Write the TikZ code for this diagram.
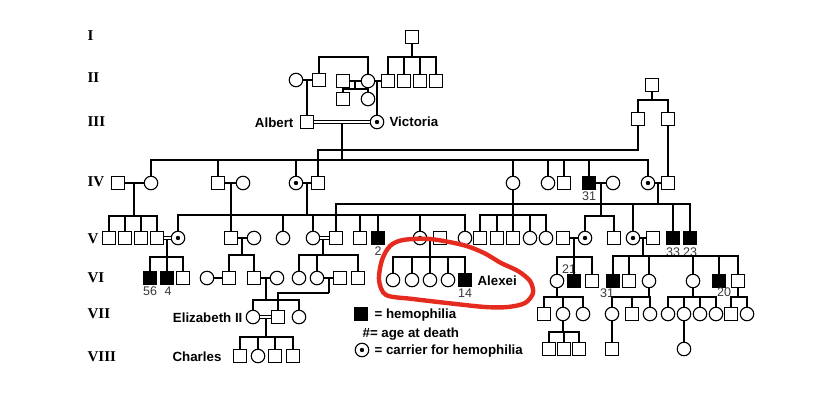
\documentclass[tikz,border=0pt]{standalone}
\usepackage{fontspec}
\setmainfont{Liberation Sans}
\newfontfamily\genfont{Liberation Serif}
\definecolor{PedRed}{HTML}{E52B1F}
\definecolor{PedGray}{HTML}{383838}

\begin{document}
\begin{tikzpicture}[x=1pt,y=-1pt,line width=1.2pt,
    person/.style={draw,fill=white,inner sep=0pt,line width=1.1pt},
    male/.style={person,rectangle,minimum size=12.5pt},
    female/.style={person,circle,minimum size=13.5pt},
    carrier/.style={female,path picture={\fill[black] (path picture bounding box.center) circle (2.2pt);}},
    sick/.style={male,fill=black},
    wed/.style={double,double distance=1.7pt,line width=1pt},
    gen/.style={anchor=base west,inner sep=0pt,font=\genfont\bfseries\fontsize{15}{15}\selectfont},
    who/.style={inner sep=0pt,font=\bfseries\fontsize{13.3}{14}\selectfont},
    age/.style={inner sep=0pt,text=PedGray,font=\fontsize{12.5}{12.5}\selectfont}]
  \useasboundingbox (0,0) rectangle (824,406);

  \node[gen] (gI) at (87,41) {I};
  \node[gen] (gII) at (87,83) {II};
  \node[gen] (gIII) at (87,127) {III};
  \node[gen] (gIV) at (87,186) {IV};
  \node[gen] (gV) at (87,243) {V};
  \node[gen] (gVI) at (87,282) {VI};
  \node[gen] (gVII) at (87,318) {VII};
  \node[gen] (gVIII) at (87,361) {VIII};

  \node[male] (i1) at (412,37) {};
  \node[female] (ii1) at (296,80) {};
  \node[male] (ii2) at (319,80) {};
  \node[male] (ii3) at (343,81) {};
  \node[female] (ii4) at (368,81) {};
  \foreach \n/\x in {ii5/388,ii6/404,ii7/420,ii8/436}
    \node[male] (\n) at (\x,81) {};
  \node[male] (ii9) at (343,99) {};
  \node[female] (ii10) at (368,99) {};
  \node[male] (albert) at (307,122) {};
  \node[carrier] (victoria) at (377,122) {};
  \node[male] (iii1) at (652,85) {};
  \node[male] (iii2) at (638,119) {};
  \node[male] (iii3) at (668,119) {};

  \node[male] (iv1) at (118,183) {};
  \node[female] (iv2) at (151,183) {};
  \node[male] (iv3) at (218,183) {};
  \node[female] (iv4) at (243,183) {};
  \node[carrier] (iv5) at (296,183) {};
  \node[male] (iv6) at (318,183) {};
  \node[female] (iv7) at (513,183) {};
  \node[female] (iv8) at (548,183) {};
  \node[male] (iv9) at (564,183) {};
  \node[sick] (iv10) at (589,183) {};
  \node[female] (iv11) at (613,183) {};
  \node[carrier] (iv12) at (648,183) {};
  \node[male] (iv13) at (668,183) {};

  \foreach \n/\x in {v1/109,v2/125,v3/141,v4/157}
    \node[male] (\n) at (\x,238) {};
  \node[carrier] (v5) at (178,238) {};
  \node[male] (v6) at (231,238) {};
  \node[female] (v7) at (254,238) {};
  \node[female] (v8) at (283,238) {};
  \node[female] (v9) at (313,238) {};
  \node[male] (v10) at (336,238) {};
  \node[male] (v11) at (360,238) {};
  \node[sick] (v12) at (378,238) {};
  \node[carrier] (v13) at (420,238) {};
  \node[male] (v14) at (440,238) {};
  \node[female] (v15) at (465,238) {};
  \foreach \n/\x in {v16/480,v17/497,v18/513}
    \node[male] (\n) at (\x,238) {};
  \node[female] (v19) at (530,238) {};
  \node[female] (v20) at (546,238) {};
  \node[male] (v21) at (563,238) {};
  \node[carrier] (v22) at (585,238) {};
  \node[male] (v23) at (614,238) {};
  \node[carrier] (v24) at (633,238) {};
  \node[male] (v25) at (653,238) {};
  \node[sick] (v26) at (673,238) {};
  \node[sick] (v27) at (690,238) {};

  \node[sick] (vi1) at (150,278) {};
  \node[sick] (vi2) at (167,278) {};
  \node[male] (vi3) at (183,278) {};
  \node[female] (vi4) at (207,278) {};
  \node[male] (vi5) at (229,278) {};
  \node[male] (vi6) at (254,278) {};
  \node[female] (vi7) at (277,278) {};
  \node[female] (vi8) at (299,278) {};
  \node[female] (vi9) at (317,278) {};
  \node[male] (vi10) at (340,278) {};
  \node[male] (vi11) at (358,278) {};
  \foreach \n/\x in {vi12/393,vi13/412,vi14/430,vi15/448}
    \node[female] (\n) at (\x,280) {};
  \node[sick] (alexei) at (465,280) {};
  \node[female] (vi16) at (557,281) {};
  \node[sick] (vi17) at (574,281) {};
  \node[male] (vi18) at (592,281) {};
  \node[sick] (vi19) at (613,281) {};
  \node[male] (vi20) at (629,281) {};
  \node[female] (vi21) at (649,281) {};
  \node[female] (vi22) at (693,281) {};
  \node[sick] (vi23) at (719,281) {};
  \node[male] (vi24) at (738,281) {};

  \node[female] (eliz) at (253,317) {};
  \node[male] (vii2) at (278,317) {};
  \node[female] (vii3) at (299,317) {};
  \node[male] (vii4) at (544,314) {};
  \node[female] (vii5) at (563,314) {};
  \node[female] (vii6) at (583,314) {};
  \node[female] (vii7) at (612,314) {};
  \node[male] (vii8) at (632,314) {};
  \node[female] (vii9) at (650,314) {};
  \foreach \n/\x in {vii10/668,vii11/684,vii12/700,vii13/716}
    \node[female] (\n) at (\x,314) {};
  \node[male] (vii14) at (731,314) {};
  \node[female] (vii15) at (747,314) {};

  \node[male] (charles) at (240,356) {};
  \node[female] (viii2) at (258,356) {};
  \node[male] (viii3) at (275,356) {};
  \node[male] (viii4) at (293,356) {};
  \foreach \n/\x in {viii5/549,viii6/564,viii7/579}
    \node[male] (\n) at (\x,349) {};
  \node[male] (viii8) at (612,349) {};
  \node[female] (viii9) at (684,349) {};

  \node[who,anchor=base east] (lalbert) at (294,127.5) {Albert};
  \node[who,anchor=base west] (lvictoria) at (389,127) {Victoria};
  \node[who,anchor=base west] (lalexei) at (477,285) {Alexei};
  \node[who,anchor=base east] (leliz) at (243,322.5) {Elizabeth II};
  \node[who,anchor=base east] (lcharles) at (222,361.5) {Charles};

  \node[age] (a31) at (589,196) {31};
  \node[age] (a2) at (378,251) {2};
  \node[age] (a33) at (673,252) {33};
  \node[age] (a23) at (690,252) {23};
  \node[age] (a56) at (150,291) {56};
  \node[age] (a4) at (168,291) {4};
  \node[age] (a14) at (465,293) {14};
  \node[age] (a21) at (569,269) {21};
  \node[age] (a31b) at (607,293) {31};
  \node[age] (a20) at (724,292) {20};

  \node[sick] (keysick) at (361,314) {};
  \node[who,anchor=base west] (keyone) at (374,318) {= hemophilia};
  \node[who,anchor=base west] (keytwo) at (362,337) {\#= age at death};
  \node[carrier] (keycar) at (362,350) {};
  \node[who,anchor=base west] (keythree) at (374,354) {= carrier for hemophilia};

  \coordinate (c1) at (412,57);
  \coordinate (c2) at (343,57);
  \coordinate (c3) at (355,89);
  \coordinate (c4) at (342,160);
  \coordinate (c5) at (652,100);
  \coordinate (c6) at (318,150);
  \coordinate (c7) at (134,216);
  \coordinate (c8) at (231,215);
  \coordinate (c9) at (307,215);
  \coordinate (c10) at (513,215);
  \coordinate (c11) at (601,216);
  \coordinate (c12) at (658,204);
  \coordinate (c13) at (167,257);
  \coordinate (c14) at (242,255);
  \coordinate (c15) at (323,255);
  \coordinate (c16) at (430,257);
  \coordinate (c17) at (574,257);
  \coordinate (c18) at (643,256);
  \coordinate (c19) at (266,300);
  \coordinate (c20) at (329,293);
  \coordinate (c21) at (557,297);
  \coordinate (c22) at (649,297);
  \coordinate (c23) at (693,297);
  \coordinate (c24) at (738,297);
  \coordinate (c25) at (266,337);
  \coordinate (c26) at (563,332);

  \draw (i1) -- (c1);
  \foreach \n in {ii5,ii6,ii7,ii8} \draw (\n.north) |- (c1);
  \draw (ii2.north) |- (c2) -| (ii4.north);
  \draw (ii1) -- (ii2);
  \draw (albert |- ii1) -- (albert.north);
  \draw (ii3) -- (ii4) -- (ii5);
  \draw (c3) -- (c3 |- ii3);
  \draw (ii9.north) |- (c3);
  \draw (ii10.north) |- (c3);
  \draw (victoria |- ii5) -- (victoria.north);

  \draw (c4) -- (c4 |- albert);
  \foreach \n in {iv2,iv3,iv5,iv7,iv8,iv9,iv10,iv12} \draw (\n.north) |- (c4);
  \draw (iii1) -- (c5);
  \draw (iii2.north) |- (c5);
  \draw (iii3.north) |- (c5);
  \draw (iii2) |- (c6) -- (iv6.north);
  \draw (iii3) -- (iv13);

  \draw (iv1) -- (iv2);
  \draw (c7) -- (c7 |- iv1);
  \foreach \n in {v1,v2,v3,v4} \draw (\n.north) |- (c7);
  \draw (iv3) -- (iv4);
  \draw (iv5) -- (iv6);
  \draw (c8) -- (c8 |- iv3);
  \draw (c9) -- (c9 |- iv5);
  \foreach \n in {v5,v6,v8,v9,v11,v12,v13,v15} \draw (\n.north) |- (c9);
  \draw (iv7) -- (c10);
  \foreach \n in {v16,v17,v18,v19,v20} \draw (\n.north) |- (c10);
  \draw (iv10) -- (iv11);
  \draw (c11) -- (c11 |- iv10);
  \draw (v22.north) |- (c11);
  \draw (v23.north) |- (c11);
  \draw (iv12) -- (iv13);
  \draw (c12) -- (c12 |- iv12);
  \foreach \n in {v10,v24,v26,v27} \draw (\n.north) |- (c12);

  \draw (c13) -- (c13 |- v4);
  \foreach \n in {vi1,vi2,vi3} \draw (\n.north) |- (c13);
  \draw (v6) -- (v7);
  \draw (c14) -- (c14 |- v6);
  \draw (vi5.north) |- (c14);
  \draw (vi6.north) |- (c14);
  \draw (c15) -- (c15 |- v9);
  \foreach \n in {vi8,vi9,vi11} \draw (\n.north) |- (c15);
  \draw (v13) -- (v14);
  \draw (c16) -- (c16 |- v13);
  \foreach \n in {vi12,vi13,vi14,vi15,alexei} \draw (\n.north) |- (c16);
  \draw (v21) -- (v22);
  \draw (c17) -- (c17 |- v21);
  \foreach \n in {vi16,vi17,vi18} \draw (\n.north) |- (c17);
  \draw (v24) -- (v25);
  \draw (c18) -- (c18 |- v24);
  \foreach \n in {vi19,vi20,vi21,vi22,vi23,vi24} \draw (\n.north) |- (c18);

  \draw (vi4) -- (vi5);
  \draw (vi6) -- (vi7);
  \draw (c19) -- (c19 |- vi6);
  \draw (eliz.north) |- (c19);
  \draw (vii3.north) |- (c19);
  \draw (vi9) -- (vi10);
  \draw (c20) -- (c20 |- vi9);
  \draw (vii2.north) |- (c20);
  \draw (vi16) -- (c21);
  \foreach \n in {vii4,vii5,vii6} \draw (\n.north) |- (c21);
  \draw (vi21) -- (c22);
  \foreach \n in {vii7,vii8,vii9} \draw (\n.north) |- (c22);
  \draw (vi22) -- (c23);
  \foreach \n in {vii10,vii11,vii12,vii13} \draw (\n.north) |- (c23);
  \draw (vi24) -- (c24);
  \foreach \n in {vii14,vii15} \draw (\n.north) |- (c24);

  \draw (c25) -- (c25 |- eliz);
  \foreach \n in {charles,viii2,viii3,viii4} \draw (\n.north) |- (c25);
  \draw (vii5) -- (c26);
  \foreach \n in {viii5,viii6,viii7} \draw (\n.north) |- (c26);
  \draw (vii7) -- (viii8);
  \draw (vii11) -- (viii9);

  \draw[wed] (albert) -- (victoria);
  \draw[wed] (v4) -- (v5);
  \draw[wed] (v9) -- (v10);
  \draw[wed] (eliz) -- (vii2);

  \draw[PedRed,line width=4.4pt] plot[smooth cycle] coordinates {(379,280) (382,260) (390,246)
    (403,240) (430,239) (463,245) (484,253) (501,263) (518,271) (530,281) (533,293)
    (525,303) (508,307) (485,307) (447,303) (413,299) (386,295)};
\end{tikzpicture}
\end{document}
